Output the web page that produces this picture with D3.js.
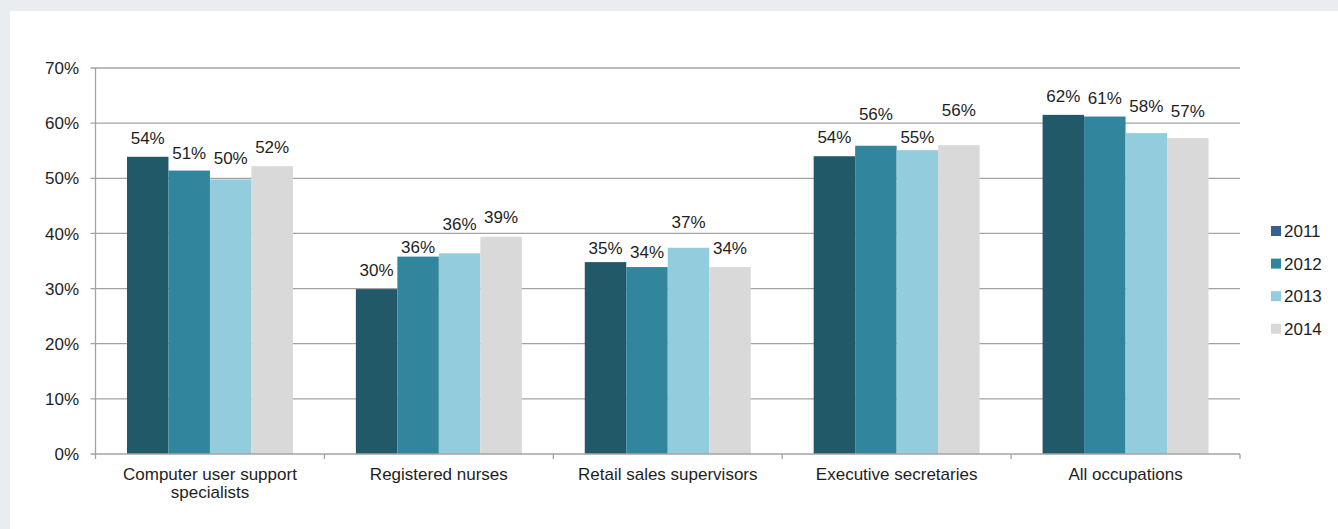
<!DOCTYPE html>
<meta charset="utf-8">
<script src="https://d3js.org/d3.v7.min.js"></script>
<style>
  body { margin: 0; background: #e9edf0; }
  svg { display: block; }
  text { font-family: "Liberation Sans", Arial, sans-serif; fill: #1e1e1e; }
</style>
<svg id="chart" width="1338" height="529"></svg>
<script>

    // Data
    const categories = [["Computer user support", "specialists"], ["Registered nurses"], ["Retail sales supervisors"], ["Executive secretaries"], ["All occupations"]]
    const years = ["2011", "2012", "2013", "2014"]
    const v2011 = [53.9, 29.9, 34.8, 54.0, 61.5]
    const v2012 = [51.4, 35.8, 33.9, 55.9, 61.2]
    const v2013 = [49.8, 36.4, 37.4, 55.1, 58.2]
    const v2014 = [52.2, 39.4, 33.9, 56.0, 57.3]
    const yTicks = [0, 10, 20, 30, 40, 50, 60, 70]

    // how far each value label sits above its bar (px), per category then year
    const labelGap = [[13, 12, 15, 13], [13, 4, 23, 14], [8, 9, 20, 13], [13, 26, 7, 29], [13, 13, 21, 21]]

    const barColors = ["#215968", "#31859c", "#93cddd", "#d9d9d9"]
    const legendColors = ["#376092", "#31859c", "#93cddd", "#d9d9d9"]

    const svg = d3.select("#chart")
    const fontSize = "17px"

    // white panel
    svg.append("rect")
        .attr("x", 10).attr("y", 11)
        .attr("width", 1328).attr("height", 518)
        .attr("fill", "#fff")

    const plotLeft = 95.5, plotRight = 1240, plotTop = 68, plotBottom = 454

    const x0 = d3.scaleBand()
        .domain(d3.range(categories.length))
        .range([plotLeft, plotRight])
        .paddingInner(0.275)
        .paddingOuter(0.1375)

    const x1 = d3.scaleBand()
        .domain(years)
        .range([0, x0.bandwidth()])

    const y = d3.scaleLinear()
        .domain([0, 70])
        .range([plotBottom, plotTop])

    // gridlines
    svg.append("g")
        .selectAll("line")
        .data(yTicks.filter(d => d > 0))
        .join("line")
          .attr("x1", plotLeft - 5)
          .attr("x2", plotRight)
          .attr("y1", d => y(d))
          .attr("y2", d => y(d))
          .attr("stroke", "#a3a3a3")
          .attr("stroke-width", 1.3)

    // y tick labels
    svg.append("g")
        .selectAll("text")
        .data(yTicks)
        .join("text")
          .attr("x", 79)
          .attr("y", d => y(d))
          .attr("dy", "0.36em")
          .attr("text-anchor", "end")
          .style("font-size", fontSize)
          .text(d => d + "%")

    // bars
    const rows = categories.map((c, i) => ({
        i: i,
        vals: [v2011[i], v2012[i], v2013[i], v2014[i]]
    }))

    const groups = svg.append("g")
        .selectAll("g")
        .data(rows)
        .join("g")
          .attr("transform", d => `translate(${x0(d.i)},0)`)

    groups.selectAll("rect")
        .data(d => d.vals.map((v, j) => ({ v: v, j: j })))
        .join("rect")
          .attr("x", d => x1(years[d.j]))
          .attr("width", x1.bandwidth())
          .attr("y", d => y(d.v))
          .attr("height", d => y(0) - y(d.v))
          .attr("fill", d => barColors[d.j])

    groups.selectAll("text")
        .data(d => d.vals.map((v, j) => ({ v: v, j: j, i: d.i })))
        .join("text")
          .attr("x", d => x1(years[d.j]) + x1.bandwidth() / 2)
          .attr("y", d => y(d.v) - labelGap[d.i][d.j])
          .attr("text-anchor", "middle")
          .style("font-size", fontSize)
          .text(d => Math.round(d.v) + "%")

    // axes lines and ticks
    const axis = svg.append("g").attr("stroke", "#a3a3a3").attr("stroke-width", 1.3)
    axis.append("line")
        .attr("x1", plotLeft).attr("x2", plotLeft)
        .attr("y1", plotTop).attr("y2", plotBottom)
    axis.selectAll(".xt")
        .data(d3.range(categories.length + 1))
        .join("line")
          .attr("x1", d => plotLeft + d * x0.step())
          .attr("x2", d => plotLeft + d * x0.step())
          .attr("y1", plotBottom)
          .attr("y2", plotBottom + 5)
    axis.append("line")
        .attr("x1", plotLeft - 5).attr("x2", plotRight)
        .attr("y1", plotBottom).attr("y2", plotBottom)

    // category labels
    svg.append("g")
        .selectAll("text")
        .data(categories)
        .join("text")
          .attr("x", (d, i) => x0(i) + x0.bandwidth() / 2)
          .attr("y", 480)
          .attr("text-anchor", "middle")
          .style("font-size", fontSize)
          .selectAll("tspan")
          .data(d => d)
          .join("tspan")
            .attr("x", function () { return this.parentNode.getAttribute("x") })
            .attr("dy", (d, k) => k === 0 ? 0 : 18)
            .text(d => d)

    // legend
    const legend = svg.append("g")
        .selectAll("g")
        .data(years)
        .join("g")
          .attr("transform", (d, i) => `translate(1271,${231 + i * 32.6})`)
    legend.append("rect")
        .attr("x", 0).attr("y", -5)
        .attr("width", 10).attr("height", 10)
        .attr("fill", (d, i) => legendColors[i])
    legend.append("text")
        .attr("x", 13)
        .attr("dy", "0.36em")
        .style("font-size", fontSize)
        .text(d => d)

</script>
